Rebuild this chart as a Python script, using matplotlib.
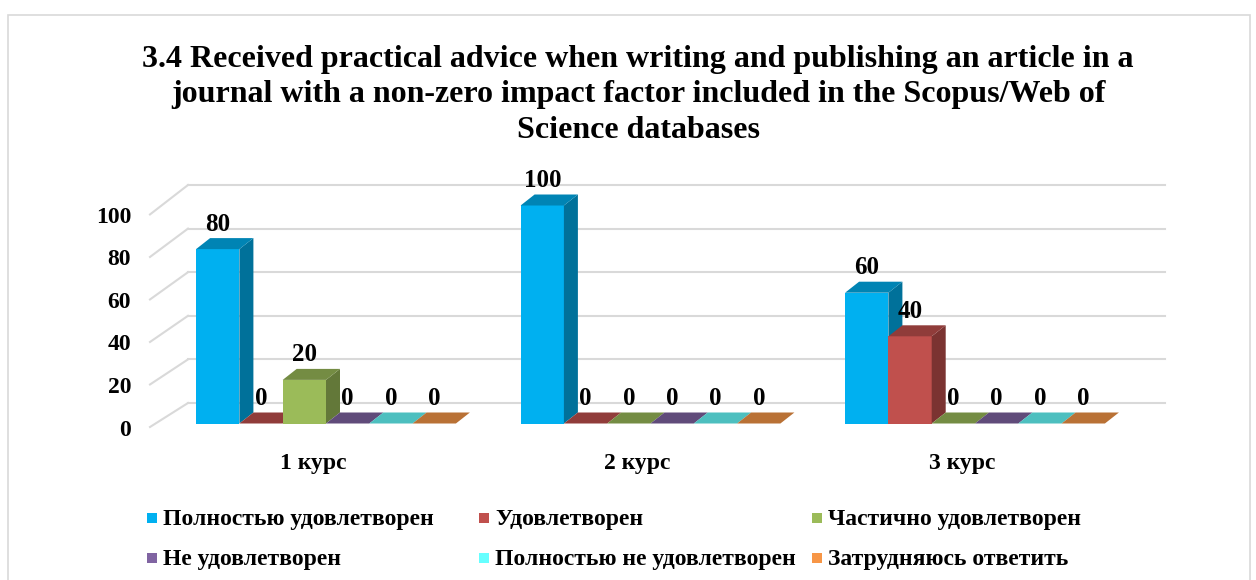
import numpy as np
import matplotlib.pyplot as plt
from matplotlib.patches import Polygon, Rectangle
from matplotlib.colors import to_rgb

# data (per cent of respondents)
courses = ['1 курс', '2 курс', '3 курс']
answers = ['Полностью удовлетворен', 'Удовлетворен', 'Частично удовлетворен',
           'Не удовлетворен', 'Полностью не удовлетворен', 'Затрудняюсь ответить']
fully_satisfied = [80, 100, 60]
satisfied = [0, 0, 40]
partly_satisfied = [20, 0, 0]
not_satisfied = [0, 0, 0]
fully_not_satisfied = [0, 0, 0]
hard_to_say = [0, 0, 0]
series = [fully_satisfied, satisfied, partly_satisfied,
          not_satisfied, fully_not_satisfied, hard_to_say]
colors = ['#00B0F0', '#C0504D', '#9BBB59', '#8064A2', '#66FFFF', '#F79646']
yticks = [0, 20, 40, 60, 80, 100]
title = ('3.4 Received practical advice when writing and publishing an article in a\n'
         'journal with a non-zero impact factor included in the Scopus/Web of\n'
         'Science databases')

plt.rcParams['font.family'] = ['Liberation Serif', 'DejaVu Serif']
plt.rcParams['font.weight'] = 'bold'

W, H = 1256, 580
fig = plt.figure(figsize=(W / 100, H / 100), dpi=100)
ax = fig.add_axes([0, 0, 1, 1])

# pixel scale of the fake 3d box
px_x = 324.5   # px per category
px_y = 2.18    # px per percent
x0 = 326.0     # px of first category centre
y0 = 423.5     # px of value 0 (bar fronts)
ax.set_xlim(-x0 / px_x, (W - x0) / px_x)
ax.set_ylim(-(H - y0) / px_y, y0 / px_y)
ax.axis('off')

bw = 43.3 / px_x           # bar width
ddx = 14 / px_x            # bar depth
ddy = 11 / px_y
wall_dy = 20.5 / px_y      # back wall above bar fronts
wall_x0 = (188 - x0) / px_x
wall_x1 = (1165 - x0) / px_x
front_x = (150 - x0) / px_x
grid_c = '#D9D9D9'

# gridlines on back wall and floor/side diagonals
for v in yticks:
    front_v = v * 0.975 - 3.5 / px_y
    ax.plot([wall_x0, wall_x1], [v + wall_dy, v + wall_dy], color=grid_c, lw=1.5, zorder=1)
    ax.plot([front_x, wall_x0], [front_v, v + wall_dy], color=grid_c, lw=1.5, zorder=1)
    ax.text((131 - x0) / px_x, front_v - 3 / px_y, str(v), ha='right', va='center',
            fontsize=17)


def shade(c, k):
    return tuple(np.array(to_rgb(c)) * k)


z = 2
for i in range(len(courses)):
    for j, vals in enumerate(series):
        v = vals[i]
        left = i - 3 * bw + j * bw
        right = left + bw
        c = colors[j]
        ax.add_patch(Rectangle((left, 0), bw, v, facecolor=c, edgecolor='none', zorder=z))
        ax.add_patch(Polygon([(right, 0), (right + ddx, ddy), (right + ddx, v + ddy), (right, v)],
                             closed=True, facecolor=shade(c, 0.64), edgecolor='none', zorder=z))
        ax.add_patch(Polygon([(left, v), (left + ddx, v + ddy), (right + ddx, v + ddy), (right, v)],
                             closed=True, facecolor=shade(c, 0.75), edgecolor='none', zorder=z))
        ax.text(left + bw / 2, v + 25 / px_y, str(v), ha='center', va='center',
                fontsize=18, zorder=20)
        z += 1
    ax.text(i - 13 / px_x, -40 / px_y, courses[i], ha='center', va='center', fontsize=17)

fig.text(638 / W, 1 - 95 / H, title, ha='center', va='center', fontsize=23,
         linespacing=1.3)

# legend, laid out like the original (row by row)
leg_x = [152, 484, 817]
leg_y = [518, 558]
for k, name in enumerate(answers):
    cx = leg_x[k % 3]
    cy = leg_y[k // 3]
    fig.add_artist(Rectangle(((cx - 5) / W, 1 - (cy + 5) / H), 10 / W, 10 / H,
                             transform=fig.transFigure, facecolor=colors[k], edgecolor='none'))
    fig.text((cx + 11) / W, 1 - (cy + 1) / H, name, ha='left', va='center', fontsize=17)

# chart border
fig.add_artist(Rectangle((8 / W, -0.1), 1242 / W, 1 - 15 / H + 0.1, transform=fig.transFigure,
                         facecolor='none', edgecolor='#D9D9D9', lw=1.2))

fig.savefig('out.png', dpi=100)
